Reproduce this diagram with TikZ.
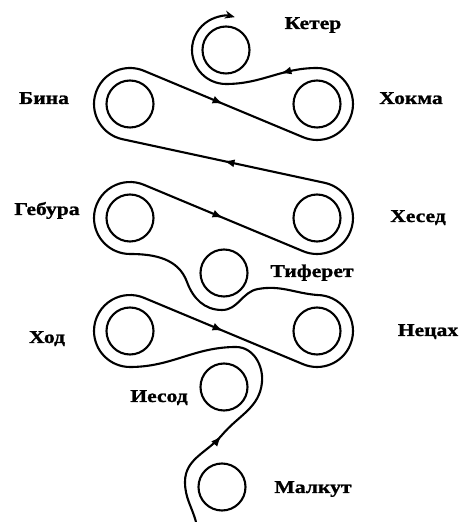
\documentclass[tikz,border=0pt]{standalone}
\usepackage{fontspec}
\setmainfont{Liberation Serif}[FakeStretch=1.2, BoldFeatures={FakeBold=1.2}]
\usetikzlibrary{arrows.meta, calc, decorations.markings}

\tikzset{
  sefira/.style={draw, circle, line width=2.1pt, minimum size=47pt, inner sep=0pt},
  flow/.style={line width=2.1pt, line cap=round, line join=round},
  mid arrow/.style={postaction={decorate, decoration={markings,
    mark=at position #1 with {\arrow{Latex[length=11pt,width=8pt]}}}}},
  mid arrow/.default=0.5,
  sefname/.style={font=\fontsize{18}{20}\selectfont\bfseries, anchor=base}
}

\begin{document}
\begin{tikzpicture}[x=1pt, y=1pt]
\useasboundingbox (0,0) rectangle (462,522);

% Sefirot
\node[sefira] (keter) at (226,472) {};
\node[sefira] (bina) at (130,418) {};
\node[sefira] (hokhma) at (317,418) {};
\node[sefira] (gebura) at (130,304) {};
\node[sefira] (hesed) at (317,304) {};
\node[sefira] (tiferet) at (224,249) {};
\node[sefira] (hod) at (130,191) {};
\node[sefira] (netzah) at (317,191) {};
\node[sefira] (yesod) at (224,135) {};
\node[sefira] (malkut) at (222,35) {};

% Names
\node[sefname] (keter-name) at (313,493) {Кетер};
\node[sefname] (hokhma-name) at (411,418) {Хокма};
\node[sefname] (bina-name) at (44,418) {Бина};
\node[sefname] (gebura-name) at (47,307) {Гебура};
\node[sefname] (hesed-name) at (418,300) {Хесед};
\node[sefname] (tiferet-name) at (312,245) {Тиферет};
\node[sefname] (hod-name) at (47,179) {Ход};
\node[sefname] (netzah-name) at (428,186) {Нецах};
\node[sefname] (yesod-name) at (159,120) {Иесод};
\node[sefname] (malkut-name) at (313,29) {Малкут};

% Up past Malkut to Yesod
\draw[flow] (196,0) to[out=105,in=270] (185,40);
\draw[flow, mid arrow=0.47] (185,40) to[out=90,in=230] (222,87) to[out=50,in=265] (262,140);

% Over Yesod and round Hod
\draw[flow] (262,140) to[out=85,in=0] (236,175) to[out=180,in=0] ($(hod)+(270:36)$)
  arc[start angle=270, end angle=67.4, radius=36];

% Hod to Netzah
\draw[flow, mid arrow] ($(hod)+(67.4:36)$) -- ($(netzah)+(247.4:36)$);

% Round Netzah, under Tiferet, round Gebura
\draw[flow] ($(netzah)+(247.4:36)$) arc[start angle=247.4, end angle=450, radius=36]
  to[out=175,in=10] (258,233) to[out=190,in=0] (222,212)
  to[out=180,in=290] (187,240) to[out=110,in=0] ($(gebura)+(270:36)$)
  arc[start angle=270, end angle=67.4, radius=36];

% Gebura to Hesed
\draw[flow, mid arrow] ($(gebura)+(67.4:36)$) -- ($(hesed)+(247.4:36)$);

% Round Hesed
\draw[flow] ($(hesed)+(247.4:36)$) arc[start angle=247.4, end angle=437.8, radius=36];

% Hesed to Bina
\draw[flow, mid arrow] ($(hesed)+(77.8:36)$) -- ($(bina)+(257.8:36)$);

% Round Bina
\draw[flow] ($(bina)+(257.8:36)$) arc[start angle=257.8, end angle=67.4, radius=36];

% Bina to Hokhma
\draw[flow, mid arrow] ($(bina)+(67.4:36)$) -- ($(hokhma)+(247.4:36)$);

% Round Hokhma, then to Keter
\draw[flow] ($(hokhma)+(247.4:36)$) arc[start angle=247.4, end angle=450, radius=36];
\draw[flow, mid arrow=0.4] ($(hokhma)+(90:36)$) to[out=180,in=0] ($(keter)+(270:34)$);
\draw[flow, -{Stealth[length=10pt,width=8pt]}] ($(keter)+(270:34)$)
  arc[start angle=270, end angle=75, radius=34];

\end{tikzpicture}
\end{document}
